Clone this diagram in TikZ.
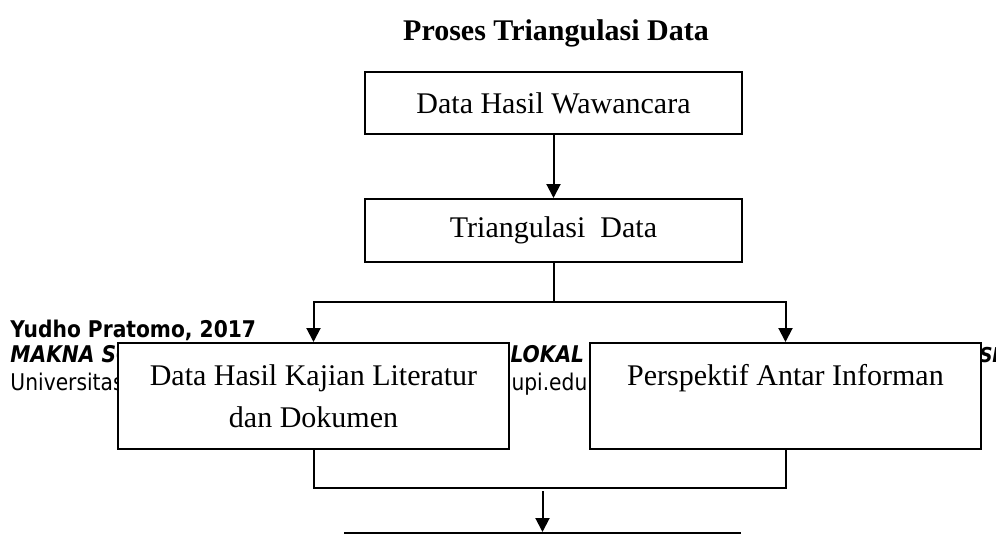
\documentclass[tikz,border=0pt]{standalone}
\usepackage{fontspec}
\setmainfont{Liberation Serif}
\newfontfamily\footfont[FakeStretch=0.88]{DejaVu Sans}
\usetikzlibrary{arrows.meta}

\begin{document}
\begin{tikzpicture}[x=0.4pt,y=-0.4pt]
	\tikzstyle{every node}=[inner sep=0pt, font=\fontsize{12}{16.8}\selectfont]
	\tikzstyle{box}=[draw, line width=0.8pt, fill=white, align=center]
	\tikzstyle{foot}=[anchor=base west, font=\footfont\fontsize{9.2}{11}\selectfont]
	\tikzstyle{line}=[line width=0.8pt]
	\tikzstyle{arr}=[line width=0.8pt, -{Triangle[width=5.6pt,length=5.6pt]}]
	\useasboundingbox (0,0) rectangle (996,534);

	% Footer text behind the boxes
	\draw{
		(10,337)node[foot]{\bfseries Yudho Pratomo, 2017}
		(10,362)node[foot]{\bfseries\itshape MAKNA SO}
		(510,362)node[foot]{\bfseries\itshape LOKAL}
		(979,362)node[foot, font=\footfont\fontsize{8.2}{10}\selectfont]{\bfseries\itshape SI}
		(10,390)node[foot]{Universitas}
		(511,390)node[foot]{upi.edu}
	};

	% Title
	\node[font=\bfseries\fontsize{12}{14}\selectfont] (judul) at (556,33) {Proses Triangulasi Data};

	% Boxes
	\node[box, minimum width=150.8pt, minimum height=24.8pt] (wawancara) at (553.5,103) {Data Hasil Wawancara};
	\node[box, minimum width=150.8pt, minimum height=25.2pt] (triangulasi) at (553.5,230.5) {Triangulasi\ \ Data};
	\node[box, minimum width=156.4pt, minimum height=42.4pt] (kajian) at (313.5,396) {Data Hasil Kajian Literatur\\dan Dokumen};
	\node[box, minimum width=156.4pt, minimum height=42.4pt] (perspektif) at (785.5,396) {Perspektif Antar Informan\\\mbox{}};
	\node[box, minimum width=158pt, minimum height=20pt, anchor=north] (hasil) at (542.5,532) {};

	% Arrows
	\coordinate (cabang) at (553.5,302);
	\coordinate (gabung) at (542.5,488);
	\coordinate (gabungbawah) at (542.5,491);
	\draw[arr] (wawancara) -- (triangulasi);
	\draw[line] (triangulasi.south) -- (cabang);
	\draw[arr] (cabang) -| (kajian.north);
	\draw[arr] (cabang) -| (perspektif.north);
	\draw[line] (kajian.south) |- (gabung) -| (perspektif.south);
	\draw[arr] (gabungbawah) -- (hasil.north);
\end{tikzpicture}
\end{document}
